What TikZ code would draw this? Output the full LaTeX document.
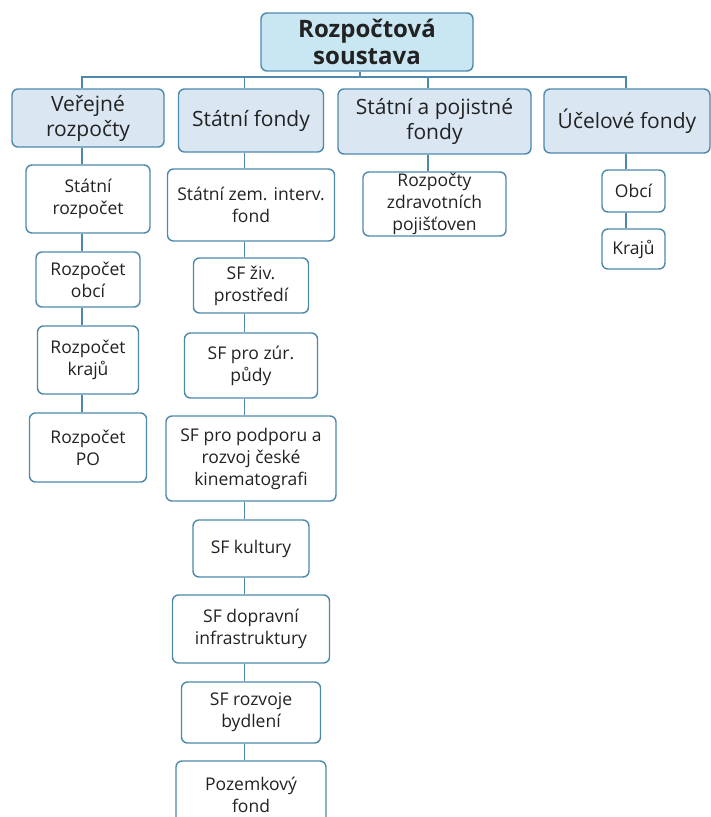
\documentclass[tikz,border=0pt]{standalone}
\usepackage{fontspec}
\setmainfont{Open Sans}
\definecolor{rootfill}{HTML}{C9E6F3}
\definecolor{lvfill}{HTML}{DAE7F3}
\definecolor{edge}{HTML}{4E89AB}
\definecolor{txt}{HTML}{222222}
\begin{document}
\begin{tikzpicture}[x=1pt,y=-1pt,
  box/.style={draw=edge, line width=1.4pt, rounded corners=6pt, align=center, text=txt,
    inner sep=0pt, fill=white, font=\fontsize{17.5}{22}\selectfont},
  lvl/.style={box, fill=lvfill, font=\fontsize{21}{25}\selectfont},
  rootbox/.style={box, fill=rootfill, font=\fontsize{24}{27}\selectfont\bfseries},
  conn/.style={draw=edge, line width=1.3pt}]
\useasboundingbox (0,0) rectangle (711,817);
% root
\node[rootbox, minimum width=212pt, minimum height=58pt] (root) at (367,42) {Rozpočtová\\soustava};
% level 1
\node[lvl, minimum width=152pt, minimum height=58pt] (v) at (88,118) {Veřejné\\rozpočty};
\node[lvl, minimum width=145pt, minimum height=63pt] (sf) at (251,120.5) {Státní fondy};
\node[lvl, minimum width=193pt, minimum height=65pt] (sp) at (434.5,121.5) {Státní a pojistné\\fondy};
\node[lvl, minimum width=166pt, minimum height=64pt] (uf) at (627,121) {Účelové fondy};
% column 1
\node[box, minimum width=124pt, minimum height=68pt] (sr) at (88,199) {Státní\\rozpočet};
\node[box, minimum width=104pt, minimum height=55pt] (ro) at (88,279.5) {Rozpočet\\obcí};
\node[box, minimum width=101pt, minimum height=68pt] (rk) at (88,360) {Rozpočet\\krajů};
\node[box, minimum width=117pt, minimum height=69pt] (rp) at (88,447.5) {Rozpočet\\PO};
% column 2
\node[box, minimum width=167pt, minimum height=72pt] (szif) at (251,205) {Státní zem. interv.\\fond};
\node[box, minimum width=115pt, minimum height=55pt] (sfzp) at (251,285.5) {SF živ.\\prostředí};
\node[box, minimum width=133pt, minimum height=65pt] (sfzur) at (251,365.5) {SF pro zúr.\\půdy};
\node[box, minimum width=170pt, minimum height=85pt] (sfkin) at (251,458.5) {SF pro podporu a\\rozvoj české\\kinematografi};
\node[box, minimum width=116pt, minimum height=57pt] (sfkul) at (251,548.5) {SF kultury};
\node[box, minimum width=157pt, minimum height=68pt] (sfdop) at (251,629) {SF dopravní\\infrastruktury};
\node[box, minimum width=139pt, minimum height=61pt] (sfbyd) at (251,712.5) {SF rozvoje\\bydlení};
\node[box, minimum width=150pt, minimum height=68pt] (pf) at (251,795) {Pozemkový\\fond};
% column 3
\node[box, minimum width=143pt, minimum height=64pt] (zp) at (434.5,204) {Rozpočty\\zdravotních\\pojišťoven};
% column 4
\node[box, minimum width=63pt, minimum height=42pt] (obci) at (633.5,191) {Obcí};
\node[box, minimum width=63pt, minimum height=40pt] (kraju) at (633.5,249) {Krajů};
% bus
\coordinate (bus) at (0,77);
\draw[conn] ([xshift=-6pt]v.north) -- ([xshift=-6pt]v.north |- bus)
  -- ([xshift=-7.5pt]obci.north |- bus) -- ([xshift=-7.5pt]obci.north |- uf.north);
\draw[conn] ([xshift=-6.5pt]sf.north) -- ([xshift=-6.5pt]sf.north |- bus);
\draw[conn] ([xshift=-6.5pt]sp.north) -- ([xshift=-6.5pt]sp.north |- bus);
\draw[conn] ([xshift=-7pt]root.south) -- ([xshift=-7pt]root.south |- bus);
% column 1 links
\draw[conn] ([xshift=-6pt]v.south) -- ([xshift=-6pt]sr.north);
\draw[conn] ([xshift=-6pt]sr.south) -- ([xshift=-6pt]ro.north);
\draw[conn] ([xshift=-6pt]ro.south) -- ([xshift=-6pt]rk.north);
\draw[conn] ([xshift=-6pt]rk.south) -- ([xshift=-6pt]rp.north);
% column 2 links
\draw[conn] ([xshift=-6.5pt]sf.south) -- ([xshift=-6.5pt]szif.north);
\draw[conn] ([xshift=-6.5pt]szif.south) -- ([xshift=-6.5pt]sfzp.north);
\draw[conn] ([xshift=-6.5pt]sfzp.south) -- ([xshift=-6.5pt]sfzur.north);
\draw[conn] ([xshift=-6.5pt]sfzur.south) -- ([xshift=-6.5pt]sfkin.north);
\draw[conn] ([xshift=-6.5pt]sfkin.south) -- ([xshift=-6.5pt]sfkul.north);
\draw[conn] ([xshift=-6.5pt]sfkul.south) -- ([xshift=-6.5pt]sfdop.north);
\draw[conn] ([xshift=-6.5pt]sfdop.south) -- ([xshift=-6.5pt]sfbyd.north);
\draw[conn] ([xshift=-6.5pt]sfbyd.south) -- ([xshift=-6.5pt]pf.north);
% column 3 link
\draw[conn] ([xshift=-6.5pt]sp.south) -- ([xshift=-6.5pt]zp.north);
% column 4 links
\draw[conn] ([xshift=-7.5pt]obci.north) -- ([xshift=-7.5pt]obci.north |- uf.south);
\draw[conn] ([xshift=-7.5pt]obci.south) -- ([xshift=-7.5pt]kraju.north);
\end{tikzpicture}
\end{document}
